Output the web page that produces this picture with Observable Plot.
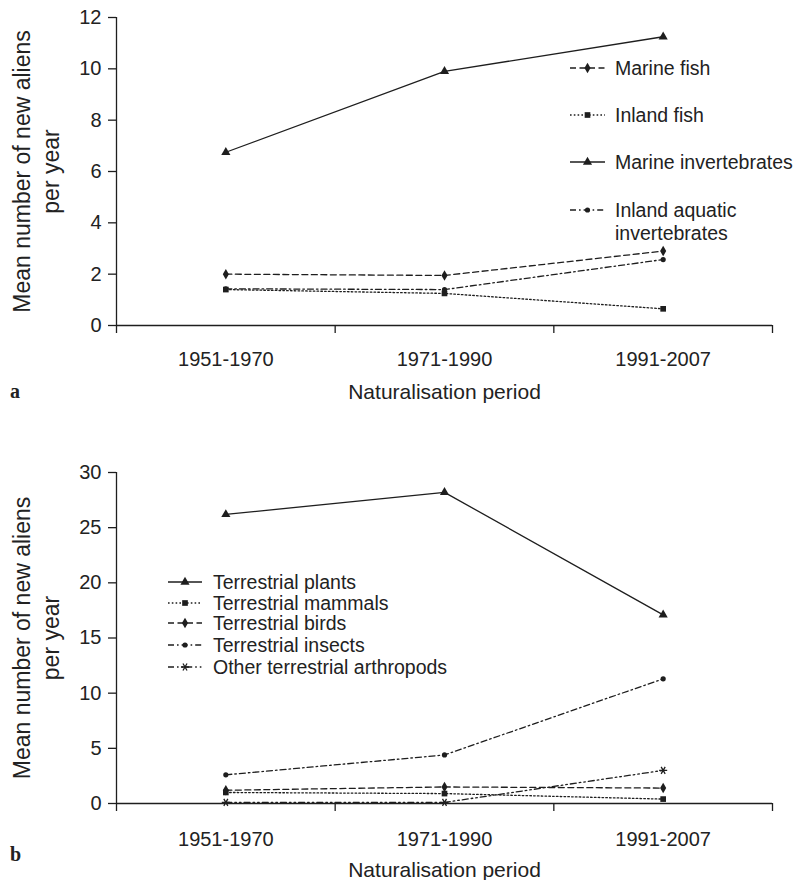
<!DOCTYPE html>
<html><head><meta charset="utf-8">
<script src="https://cdn.jsdelivr.net/npm/d3@7"></script>
<script src="https://cdn.jsdelivr.net/npm/@observablehq/plot@0.6"></script>
<style>
body{margin:0;background:#fff;}
#root{position:relative;width:798px;height:880px;overflow:hidden;font-family:"Liberation Sans",Arial,Helvetica,sans-serif;color:#222;}
.panel{position:absolute;left:0;}
.item{position:absolute;white-space:nowrap;font-size:19.5px;line-height:23px;}
.letter{position:absolute;font-family:"Liberation Serif","Times New Roman",serif;font-weight:bold;font-size:20px;line-height:20px;}
</style></head><body><div id="root"></div>
<script>
// ---- data ----
const periods = ["1951-1970", "1971-1990", "1991-2007"];

// panel a
const marineFish = [2.0, 1.95, 2.9];
const inlandFish = [1.4, 1.25, 0.65];
const marineInvertebrates = [6.75, 9.9, 11.25];
const inlandAquaticInvertebrates = [1.43, 1.4, 2.57];
const aTicks = [0, 2, 4, 6, 8, 10, 12];

// panel b
const terrestrialPlants = [26.2, 28.2, 17.1];
const terrestrialMammals = [1.0, 0.9, 0.4];
const terrestrialBirds = [1.2, 1.5, 1.4];
const terrestrialInsects = [2.6, 4.4, 11.3];
const otherTerrestrialArthropods = [0.1, 0.1, 3.0];
const bTicks = [0, 5, 10, 15, 20, 25, 30];

// ---- styles ----
const INK = "#1e1e1e";
const DASH = "6,3.5";
const DOT = "1.6,2.2";
const DASHDOT = "6,3,1.6,3";
const DASHDOTDOT = "6,3,1.6,3,1.6,3";
const FONT = "Liberation Sans, Arial, Helvetica, sans-serif";

const seriesA = [
  {name: "Marine fish", values: marineFish, dash: DASH, symbol: "diamond", r: 3.2, fill: true},
  {name: "Inland fish", values: inlandFish, dash: DOT, symbol: "square", r: 3.2, fill: true},
  {name: "Marine invertebrates", values: marineInvertebrates, dash: null, symbol: "triangle", r: 3.4, fill: true},
  {name: "Inland aquatic\ninvertebrates", values: inlandAquaticInvertebrates, dash: DASHDOT, symbol: "circle", r: 2.6, fill: true}
];
const seriesB = [
  {name: "Terrestrial plants", values: terrestrialPlants, dash: null, symbol: "triangle", r: 3.4, fill: true},
  {name: "Terrestrial mammals", values: terrestrialMammals, dash: DOT, symbol: "square", r: 3.2, fill: true},
  {name: "Terrestrial birds", values: terrestrialBirds, dash: DASH, symbol: "diamond", r: 3.2, fill: true},
  {name: "Terrestrial insects", values: terrestrialInsects, dash: DASHDOT, symbol: "circle", r: 2.6, fill: true},
  {name: "Other terrestrial arthropods", values: otherTerrestrialArthropods, dash: DASHDOTDOT, symbol: "asterisk", r: 3.8, fill: false}
];

function panel({series, yTicks, height, marginTop, marginBottom, labelPad, titleDy}) {
  const marks = [];
  for (const s of series) {
    const data = s.values.map((v, i) => ({x: i + 0.5, v, period: periods[i]}));
    marks.push(Plot.line(data, {x: "x", y: "v", stroke: INK, strokeWidth: 1.3, strokeDasharray: s.dash || undefined}));
    marks.push(Plot.dot(data, {x: "x", y: "v", symbol: s.symbol, r: s.r, rotate: s.symbol === "asterisk" ? 90 : 0,
      fill: s.fill ? INK : "none", stroke: s.fill ? "none" : INK, strokeWidth: 1.3}));
  }
  return Plot.plot({
    width: 798, height, marginLeft: 116, marginRight: 26, marginTop, marginBottom,
    style: {fontFamily: FONT, fontSize: "20px", color: "#222", background: "transparent"},
    x: {domain: [0, periods.length], axis: null},
    y: {domain: [0, d3.max(yTicks)], axis: null},
    marks: [
      Plot.ruleX([0], {stroke: INK, strokeWidth: 1.3}),
      Plot.ruleY([0], {stroke: INK, strokeWidth: 1.3}),
      Plot.axisY(yTicks, {tickSize: 8, tickPadding: 7, stroke: INK, strokeWidth: 1.3, fontSize: 20, label: null}),
      Plot.axisX(d3.range(periods.length + 1), {tickSize: 8, tickFormat: () => "", stroke: INK, strokeWidth: 1.3, label: null}),
      Plot.axisX(periods.map((p, i) => i + 0.5), {tickSize: 0, tickPadding: labelPad, tickFormat: d => periods[Math.floor(d)], fontSize: 20, label: null}),
      ...marks,
      Plot.text(["Mean number of new aliens\nper year"], {text: d => d, frameAnchor: "left", rotate: -90, dx: -81,
        fontSize: 23, lineHeight: 1.22, textAnchor: "middle", lineAnchor: "middle", fill: "#222"}),
      Plot.text(["Naturalisation period"], {text: d => d, frameAnchor: "bottom", dy: titleDy,
        fontSize: 21, lineAnchor: "middle", fill: "#222"})
    ]
  });
}

const root = document.getElementById("root");
function place(node, top) {
  const div = document.createElement("div");
  div.className = "panel";
  div.style.top = top + "px";
  div.appendChild(node);
  root.appendChild(div);
}
place(panel({series: seriesA, yTicks: aTicks, height: 420, marginTop: 17, marginBottom: 95, labelPad: 26, titleDy: 67}), 0);
place(panel({series: seriesB, yTicks: bTicks, height: 460, marginTop: 52, marginBottom: 77, labelPad: 28, titleDy: 67}), 420);

const symbolTypes = {triangle: d3.symbolTriangle, square: d3.symbolSquare, diamond: d3.symbolDiamond,
  circle: d3.symbolCircle, asterisk: d3.symbolAsterisk};

function legend(series, sx, sw, tx, ys) {
  series.forEach((s, k) => {
    const lines = s.name.split("\n");
    const cy = ys[k];
    const div = document.createElement("div");
    div.className = "item";
    div.style.left = tx + "px";
    div.style.top = (cy - 11.5) + "px";
    div.innerHTML = lines.join("<br>");
    root.appendChild(div);
    const svg = d3.select(root).append("svg")
      .style("position", "absolute").style("left", sx + "px").style("top", (cy - 8) + "px")
      .style("overflow", "visible")
      .attr("width", sw).attr("height", 16);
    svg.append("line").attr("x1", 0).attr("x2", sw).attr("y1", 8).attr("y2", 8)
      .attr("stroke", INK).attr("stroke-width", 1.3).attr("stroke-dasharray", s.dash);
    svg.append("path").attr("transform", `translate(${sw / 2},8) rotate(${s.symbol === "asterisk" ? 90 : 0})`)
      .attr("d", d3.symbol(symbolTypes[s.symbol], Math.PI * s.r * s.r)())
      .attr("fill", s.fill ? INK : "none").attr("stroke", s.fill ? "none" : INK).attr("stroke-width", 1.3);
  });
}
legend(seriesA, 570, 35, 615, [68, 115, 162, 210]);
legend(seriesB, 168, 34, 213, [582, 603, 623, 645, 667]);

function letter(t, left, cy) {
  const d = document.createElement("div");
  d.className = "letter";
  d.textContent = t;
  d.style.left = left + "px";
  d.style.top = (cy - 11) + "px";
  root.appendChild(d);
}
letter("a", 10, 392);
letter("b", 10, 855);
</script></body></html>
